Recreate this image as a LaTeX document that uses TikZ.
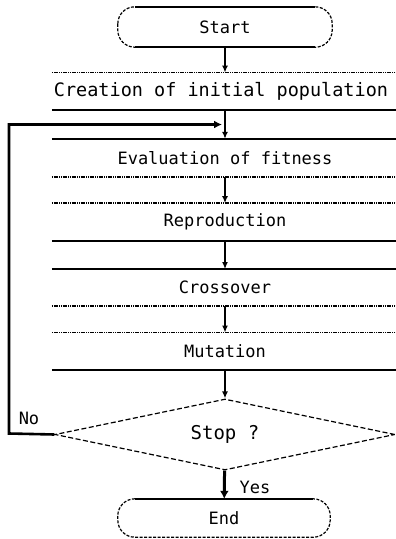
\documentclass[tikz,border=0pt]{standalone}
\usepackage{fontspec}
\setmonofont{DejaVu Sans Mono}
\usetikzlibrary{shapes.geometric,arrows.meta}
\begin{document}
\begin{tikzpicture}[x=1pt,y=-1pt,
  txt/.style={font=\ttfamily\fontsize{17}{20}\selectfont},
  band/.style={minimum width=346pt, inner sep=0pt, txt},
  solidedge/.style={line width=1.6pt},
  dotedge/.style={line width=1.6pt, dash pattern=on 1.2pt off 0.6pt},
  flow/.style={line width=1.4pt, -{Latex[length=7pt,width=6pt]}},
  term/.style={minimum width=214pt, minimum height=40pt, inner sep=0pt, txt},
  capline/.style={line width=1.2pt, dash pattern=on 3pt off 1.5pt, rounded corners=17pt}]
\useasboundingbox (0,0) rectangle (396,539);

% terminals
\node[term] (start) at (225,27) {Start};
\draw[capline] (start.north west) rectangle (start.south east);
\draw[solidedge] ([xshift=17pt]start.north west) -- ([xshift=-17pt]start.north east);
\draw[solidedge] ([xshift=17pt]start.south west) -- ([xshift=-17pt]start.south east);

\node[term, minimum width=212pt, minimum height=38pt] (finish) at (224,518) {End};
\draw[capline] (finish.north west) rectangle (finish.south east);
\draw[solidedge] ([xshift=17pt]finish.north west) -- ([xshift=-17pt]finish.north east);

% bands
\node[band, minimum height=37.3pt, font=\ttfamily\fontsize{18.5}{21}\selectfont] (b1) at (221,91.3) {Creation of initial population};
\node[band, minimum height=37.7pt] (b2) at (225,157.9) {Evaluation of fitness};
\node[band, minimum height=37.4pt] (b3) at (225,222) {Reproduction};
\node[band, minimum height=36.7pt] (b4) at (225,287.6) {Crossover};
\node[band, minimum height=37.3pt] (b5) at (225,351.4) {Mutation};

\draw[dotedge] ([xshift=4pt]b1.north west) -- ([xshift=4pt]b1.north east);
\draw[solidedge] ([xshift=4pt]b1.south west) -- ([xshift=4pt]b1.south east);
\draw[solidedge] (b2.north west) -- (b2.north east);
\draw[dotedge] (b2.south west) -- (b2.south east);
\draw[dotedge] (b3.north west) -- (b3.north east);
\draw[solidedge] (b3.south west) -- (b3.south east);
\draw[solidedge] (b4.north west) -- (b4.north east);
\draw[dotedge] (b4.south west) -- (b4.south east);
\draw[dotedge] (b5.north west) -- (b5.north east);
\draw[solidedge] (b5.south west) -- (b5.south east);

% decision
\node[diamond, aspect=4.8, minimum width=340pt, minimum height=71pt, inner sep=0pt,
      draw, line width=1.2pt, dash pattern=on 5pt off 2.5pt, txt,
      font=\ttfamily\fontsize{19}{22}\selectfont] (stop) at (225,434.5) {Stop ?};

% flow arrows
\coordinate (b1top) at (225,72.6);
\coordinate (b1bot) at (225,110);
\draw[flow] (start) -- (b1top);
\draw[flow] (b1bot) -- (b2);
\draw[flow] (b2) -- (b3);
\draw[flow] (b3) -- (b4);
\draw[flow] (b4) -- (b5);
\draw[flow] (b5) -- (stop);
\draw[line width=3pt, -{Latex[length=8pt,width=9pt]}] (stop) -- (finish);
\node[txt, anchor=west] (yeslabel) at (236,487) {Yes};

% loop back
\coordinate (cornerA) at (9,433.5);
\coordinate (cornerB) at (9,124.5);
\coordinate (join) at (222,124.5);
\draw[line width=2.6pt, -{Latex[length=8pt,width=8pt]}] (stop.west) -- (cornerA) -- (cornerB) -- (join);
\node[txt] (nolabel) at (29,418) {No};
\end{tikzpicture}
\end{document}
